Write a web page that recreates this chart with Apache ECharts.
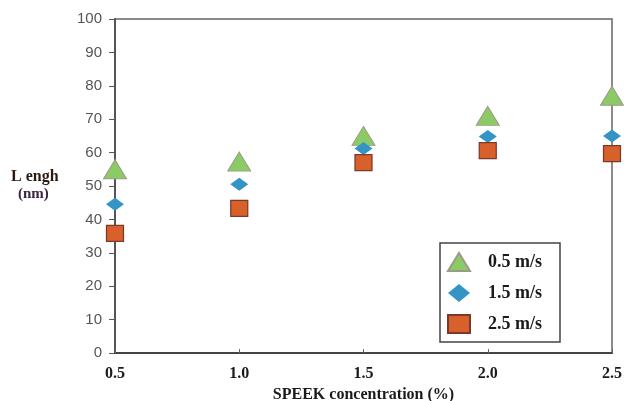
<!DOCTYPE html>
<html>
<head>
<meta charset="utf-8">
<script src="https://cdn.jsdelivr.net/npm/echarts@6/dist/echarts.min.js"></script>
<style>html,body{margin:0;padding:0;background:#fff;}#c{width:624px;height:401px;}</style>
</head>
<body>
<div id="c"></div>
<script>
var concentrations = [0.5, 1.0, 1.5, 2.0, 2.5];
var seriesNames = ['0.5 m/s', '1.5 m/s', '2.5 m/s'];
var v05 = [55, 57.3, 65, 71, 77];
var v15 = [44.5, 50.5, 61.2, 64.8, 65];
var v25 = [35.8, 43.3, 57, 60.6, 59.7];
var yTicks = [0, 10, 20, 30, 40, 50, 60, 70, 80, 90, 100];

function pairs(vals) { return concentrations.map(function (c, i) { return [c, vals[i]]; }); }

var serif = '"Liberation Serif", "DejaVu Serif", serif';
var chart = echarts.init(document.getElementById('c'));
chart.setOption({
  animation: false,
  backgroundColor: '#fff',
  grid: { left: 115, right: 12, top: 19, bottom: 48, show: true, borderColor: '#666', borderWidth: 1.5,
    containLabel: false, outerBoundsMode: 'none' },
  xAxis: {
    type: 'value', min: 0.5, max: 2.5, interval: 0.5,
    name: 'SPEEK concentration (%)', nameLocation: 'middle', nameGap: 26,
    nameTextStyle: { fontFamily: serif, fontWeight: 'bold', fontSize: 16, color: '#1a1a1a' },
    axisLine: { lineStyle: { color: '#444', width: 2 } },
    axisTick: { inside: true, length: 4, lineStyle: { color: '#666' } },
    axisLabel: { fontFamily: serif, fontWeight: 'bold', fontSize: 16, color: '#1a1a1a', margin: 13,
      formatter: function (v) { return v.toFixed(1); } },
    splitLine: { show: false }
  },
  yAxis: {
    type: 'value', min: yTicks[0], max: yTicks[yTicks.length - 1], interval: 10,
    axisLine: { show: true, lineStyle: { color: '#555', width: 2 } },
    axisTick: { show: true, length: 6, lineStyle: { color: '#555' } },
    axisLabel: { fontFamily: '"Liberation Sans", Arial, sans-serif', fontSize: 15, color: '#555', margin: 13 },
    splitLine: { show: false }
  },
  graphic: [
    { type: 'text', left: 11, top: 169, style: { text: 'L engh', font: 'bold 16px ' + serif, fill: '#2a1a10' } },
    { type: 'text', left: 18, top: 187, style: { text: '(nm)', font: 'bold 15px ' + serif, fill: '#3a2440' } }
  ],
  legend: {
    orient: 'vertical', left: 440, top: 243,
    borderColor: '#444', borderWidth: 1.5, padding: [9, 18, 8, 7],
    itemGap: 12, itemWidth: 22, itemHeight: 18,
    textStyle: { fontFamily: serif, fontWeight: 'bold', fontSize: 18, color: '#1a1a1a', padding: [0, 0, 0, 13] },
    data: [
      { name: seriesNames[0], icon: 'triangle' },
      { name: seriesNames[1], icon: 'diamond', itemStyle: { borderWidth: 0 } },
      { name: seriesNames[2], icon: 'rect' }
    ]
  },
  series: [
    { name: seriesNames[0], type: 'scatter', symbol: 'triangle', symbolSize: [23, 19], data: pairs(v05),
      itemStyle: { color: '#8cca66', borderColor: '#9a9a88', borderWidth: 1, opacity: 1 } },
    { name: seriesNames[1], type: 'scatter', symbol: 'diamond', symbolSize: [18, 13], data: pairs(v15),
      itemStyle: { color: '#3594c6', borderWidth: 0, opacity: 1 } },
    { name: seriesNames[2], type: 'scatter', symbol: 'rect', symbolSize: [17, 16], data: pairs(v25),
      itemStyle: { color: '#d8602a', borderColor: '#7a3a28', borderWidth: 1.2, opacity: 1 } }
  ]
});
</script>
</body>
</html>
